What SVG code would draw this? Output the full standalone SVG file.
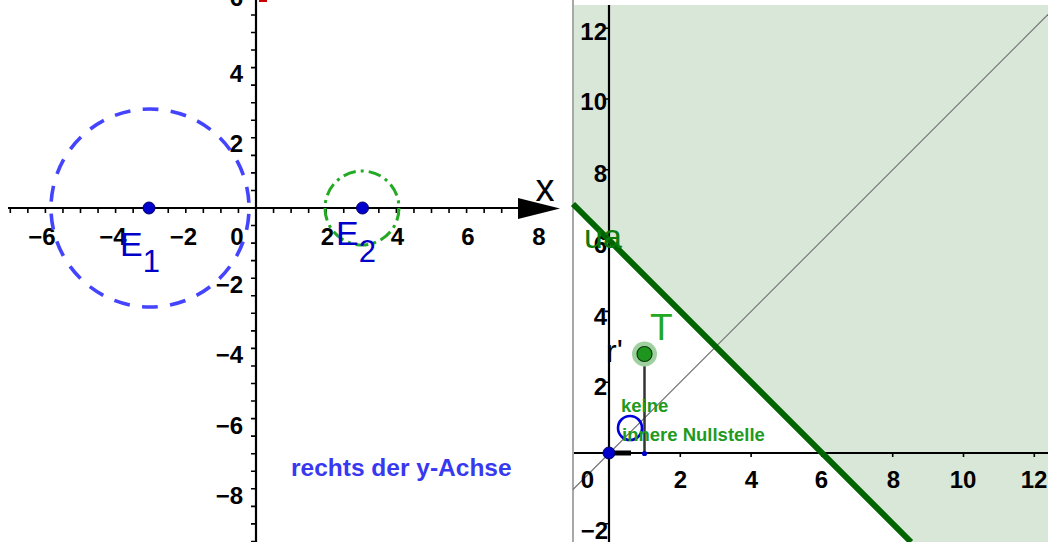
<svg xmlns="http://www.w3.org/2000/svg" width="1048" height="542" viewBox="0 0 1048 542">
<style>
.num{font-family:"Liberation Sans",Arial,sans-serif;font-weight:bold;font-size:24px;fill:#000}
.mid{text-anchor:middle}
.end{text-anchor:end}
.axis{stroke:#000;stroke-width:2.2;fill:none}
.tick{stroke:#000;stroke-width:1.6;fill:none}
.elab{font-family:"Liberation Sans",Arial,sans-serif;font-size:34px;fill:#0000c8}
.gtxt{font-family:"Liberation Sans",Arial,sans-serif;font-weight:bold;font-size:18.5px;fill:#1f9a1f}
.bpt{fill:#0000cc;stroke:#000060;stroke-width:1}
</style>
<rect x="0" y="0" width="1048" height="542" fill="#ffffff"/>

<!-- LEFT PANEL -->
<g id="left-axes">
  <line class="axis" x1="8" y1="208" x2="522" y2="208"/>
  <polygon points="518,198 560,208.5 518,219" fill="#000"/>
  <line class="axis" x1="256" y1="0" x2="256" y2="542"/>
  <path class="tick" d="M10.3 208v5M27.85 208v5M45.4 208v5M62.95 208v5M80.5 208v5M98.05 208v5M115.6 208v5M133.15 208v5M150.7 208v5M168.25 208v5M185.8 208v5M203.35 208v5M220.9 208v5M238.45 208v5M273.55 208v5M291.1 208v5M308.65 208v5M326.2 208v5M343.75 208v5M361.3 208v5M378.85 208v5M396.4 208v5M413.95 208v5M431.5 208v5M449.05 208v5M466.6 208v5M484.15 208v5M501.7 208v5"/>
  <path class="tick" d="M256 14.95h-5M256 32.5h-5M256 50.05h-5M256 67.6h-5M256 85.15h-5M256 102.7h-5M256 120.25h-5M256 137.8h-5M256 155.35h-5M256 172.9h-5M256 190.45h-5M256 225.55h-5M256 243.1h-5M256 260.65h-5M256 278.2h-5M256 295.75h-5M256 313.3h-5M256 330.85h-5M256 348.4h-5M256 365.95h-5M256 383.5h-5M256 401.05h-5M256 418.6h-5M256 436.15h-5M256 453.7h-5M256 471.25h-5M256 488.8h-5M256 506.35h-5M256 523.9h-5M256 541.45h-5"/>
  <rect x="259" y="0" width="8" height="2" fill="#cc0000"/>
  <text x="545" y="201" font-family="Liberation Sans,Arial,sans-serif" font-size="38" fill="#000" text-anchor="middle">x</text>
</g>
<g id="left-labels">
  <text class="num mid" x="42" y="245">−6</text>
  <text class="num mid" x="113" y="245">−4</text>
  <text class="num mid" x="183.5" y="245">−2</text>
  <text class="num mid" x="237" y="245">0</text>
  <text class="num mid" x="327.5" y="245">2</text>
  <text class="num mid" x="397.5" y="245">4</text>
  <text class="num mid" x="468" y="245">6</text>
  <text class="num mid" x="539" y="245">8</text>
  <text class="num end" x="243" y="6">6</text>
  <text class="num end" x="243" y="81.5">4</text>
  <text class="num end" x="243" y="152">2</text>
  <text class="num end" x="243" y="293">−2</text>
  <text class="num end" x="243" y="363">−4</text>
  <text class="num end" x="243" y="433.5">−6</text>
  <text class="num end" x="243" y="504">−8</text>
</g>
<g id="E1">
  <circle cx="150" cy="208" r="99" fill="none" stroke="#4444ff" stroke-width="3.6" stroke-dasharray="16 12.27" stroke-dashoffset="-6"/>
  <circle class="bpt" cx="149" cy="208" r="6"/>
  <text class="elab" x="120" y="256">E<tspan dy="16" font-size="31">1</tspan></text>
</g>
<g id="E2">
  <circle cx="362" cy="208" r="37" fill="none" stroke="#22aa22" stroke-width="3" stroke-dasharray="12.8 5 3 5.03"/>
  <circle class="bpt" cx="362.5" cy="208" r="6"/>
  <text class="elab" x="336" y="245">E<tspan dy="17" font-size="31">2</tspan></text>
</g>
<g id="note-left">
  <text x="291" y="476" font-family="Liberation Sans,Arial,sans-serif" font-weight="bold" font-size="24.5" fill="#3838f0">rechts der y-Achse</text>
</g>

<!-- RIGHT PANEL -->
<g id="right-panel">
  <polygon id="half-plane" points="573,5 1048,5 1048,542 911,542 573,204" fill="#d9e7d9"/>
  <line x1="573" y1="0" x2="573" y2="542" stroke="#a8a8a8" stroke-width="2"/>
  <line id="diag" x1="573" y1="489.5" x2="1048" y2="14.5" stroke="#707070" stroke-width="1.1"/>
</g>
<g id="right-axes">
  <line class="axis" x1="574" y1="453" x2="1048" y2="453"/>
  <line class="axis" x1="609" y1="5" x2="609" y2="542"/>
  <path class="tick" d="M680.3 453v4M751.1 453v4M821.9 453v4M892.7 453v4M963.5 453v4M1034.3 453v4M609 382.2h-4M609 311.4h-4M609 240.6h-4M609 169.8h-4M609 99h-4M609 28.2h-4M609 523.8h-4"/>
</g>
<g id="right-labels">
  <text class="num mid" x="680.5" y="488">2</text>
  <text class="num mid" x="751.5" y="488">4</text>
  <text class="num mid" x="821.5" y="488">6</text>
  <text class="num mid" x="893.5" y="488">8</text>
  <text class="num mid" x="963" y="488">10</text>
  <text class="num mid" x="1034" y="488">12</text>
  <text class="num end" x="594" y="488">0</text>
  <text class="num end" x="607" y="40">12</text>
  <text class="num end" x="607" y="110">10</text>
  <text class="num end" x="607" y="182">8</text>
  <text class="num end" x="607" y="253">6</text>
  <text class="num end" x="607" y="325">4</text>
  <text class="num end" x="607" y="395">2</text>
  <text class="num end" x="608" y="539">−2</text>
</g>
<g id="ua">
  <line x1="573" y1="204" x2="911" y2="542" stroke="#006400" stroke-width="6"/>
  <text x="584" y="248" font-family="Liberation Sans,Arial,sans-serif" font-size="34" fill="#0b7a0b">ua</text>
</g>
<g id="r-prime">
  <line x1="644.5" y1="354" x2="644.5" y2="453" stroke="#333" stroke-width="2.5"/>
  <text x="606" y="362" font-family="Liberation Sans,Arial,sans-serif" font-size="32" fill="#000">r'</text>
</g>
<g id="origin">
  <line x1="609" y1="453" x2="631" y2="453" stroke="#000" stroke-width="5"/>
  <circle class="bpt" cx="609" cy="453" r="6"/>
  <circle cx="644.5" cy="453.5" r="2.6" fill="#0000cc"/>
</g>
<g id="T">
  <circle cx="644.5" cy="354" r="12.5" fill="#9fd09f"/>
  <circle cx="644.5" cy="354" r="7.5" fill="#1e961e" stroke="#0a3a0a" stroke-width="1.2"/>
  <text x="650" y="340" font-family="Liberation Sans,Arial,sans-serif" font-size="37" fill="#22a822">T</text>
</g>
<g id="small-circle">
  <circle cx="630" cy="428" r="12" fill="none" stroke="#0000dd" stroke-width="2.6"/>
</g>
<g id="note-right">
  <text class="gtxt" x="621" y="412">keine</text>
  <text class="gtxt" x="622" y="441">innere Nullstelle</text>
</g>
</svg>
